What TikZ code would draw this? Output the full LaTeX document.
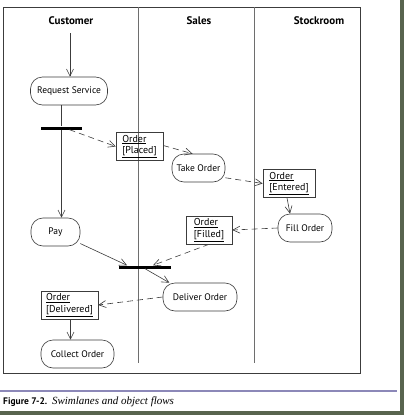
\documentclass[tikz,border=0pt]{standalone}
\usepackage{fontspec}
\setmainfont{PT Sans}
\newfontfamily\capfont{Liberation Serif}
\usepackage{tikz}
\usetikzlibrary{arrows.meta,shapes,positioning}
\usepackage{xcolor}
\definecolor{umlgray}{RGB}{60,60,60}
\definecolor{lanegray}{RGB}{110,110,110}
\definecolor{capline}{RGB}{140,136,184}
\definecolor{pageshadow}{RGB}{88,100,78}
\tikzstyle{activity} = [rectangle, rounded corners=12pt, minimum height=28pt, inner xsep=3pt, text centered, draw=umlgray, semithick, font=\fontsize{9.5}{11}\selectfont]
\tikzstyle{object} = [rectangle, draw=umlgray, semithick, align=left, minimum height=28pt, inner xsep=3pt, inner ysep=2pt, font=\fontsize{10}{11.5}\selectfont]
\tikzstyle{bar} = [rectangle, fill=black, minimum height=3pt, inner sep=0pt]
\tikzstyle{lane} = [font=\bfseries\fontsize{11}{13}\selectfont]
\tikzstyle{flow} = [->,>={Straight Barb[length=7pt,width=7pt]},color=umlgray,semithick]
\tikzstyle{objflow} = [flow, dashed, dash pattern=on 6pt off 4pt]

\begin{document}
\begin{tikzpicture}[x=1pt, y=-1pt]
\useasboundingbox (0,0) rectangle (404,415);
% Page and shadow
\fill[pageshadow] (0,0) rectangle (404,415);
\fill[white] (0,0) rectangle (400,411);
\draw[umlgray, semithick] (3,7) rectangle (360,373);
\draw[lanegray, semithick] (138,7) -- (138,363);
\draw[lanegray, semithick] (254,7) -- (254,363);

% Lane headers
\node (cust) [lane] at (71,21) {Customer};
\node (sales) [lane] at (199,21) {Sales};
\node (stock) [lane] at (319,21) {Stockroom};

% Activities
\coordinate (start) at (70,33);
\node (req) [activity, minimum width=77pt] at (69,91) {Request Service};
\node (fork) [bar, minimum width=41pt] at (61.5,128) {};
\node (pay) [activity, minimum width=49pt] at (55.5,232) {Pay};
\node (take) [activity, minimum width=53pt] at (198.5,168) {Take Order};
\node (fill) [activity, minimum width=54pt] at (305,228) {Fill Order};
\node (join) [bar, minimum width=52pt] at (145,267) {};
\node (deliver) [activity, minimum width=74pt] at (200,297) {Deliver Order};
\node (collect) [activity, minimum width=73pt] at (77.5,354) {Collect Order};

% Objects
\node (placed) [object, minimum width=47pt] at (139.5,146.5) {\underline{Order}\\\underline{[Placed]}};
\node (entered) [object, minimum width=52pt] at (289,183.5) {\underline{Order}\\\underline{[Entered]}};
\node (filled) [object, minimum width=46pt] at (209,230) {\underline{Order}\\\underline{[Filled]}};
\node (delivered) [object, minimum width=57pt] at (69.5,305) {\underline{Order}\\\underline{[Delivered]}};

% Control flows
\draw[flow] (start) -- (start |- req.north);
\draw[umlgray, semithick] (fork |- req.south) -- (fork.north);
\draw[flow] (fork.south) -- (fork |- pay.north);
\draw[flow] (pay.-25) -- ([xshift=-18pt]join.north);
\draw[flow] (join.south) -- (deliver.155);
\draw[flow] ([xshift=-2pt]entered.south) -- ([xshift=-15pt]fill.north);
\draw[flow] ([xshift=1pt]delivered.south) -- ([xshift=1pt]delivered.south |- collect.north);

% Object flows
\draw[objflow] ([xshift=8pt]fork.south) -- (placed.west);
\draw[objflow] ([yshift=1pt]placed.east) -- ([xshift=-6pt]take.north);
\draw[objflow] (take.-20) -- (entered.west);
\draw[objflow] (fill.west) -- (filled.east);
\draw[objflow] (filled.south) -- ([xshift=8pt]join.north);
\draw[objflow] (deliver.west) -- (delivered.east);

% Caption
\draw[capline, line width=1.5pt] (0,391) -- (397,391);
\node (cap) [anchor=west, inner sep=0pt] at (3,402) {\bfseries\fontsize{9.5}{11}\selectfont Figure 7-2.\ \ {\capfont\itshape\mdseries\fontsize{11}{12}\selectfont Swimlanes and object flows}};
\end{tikzpicture}
\end{document}
